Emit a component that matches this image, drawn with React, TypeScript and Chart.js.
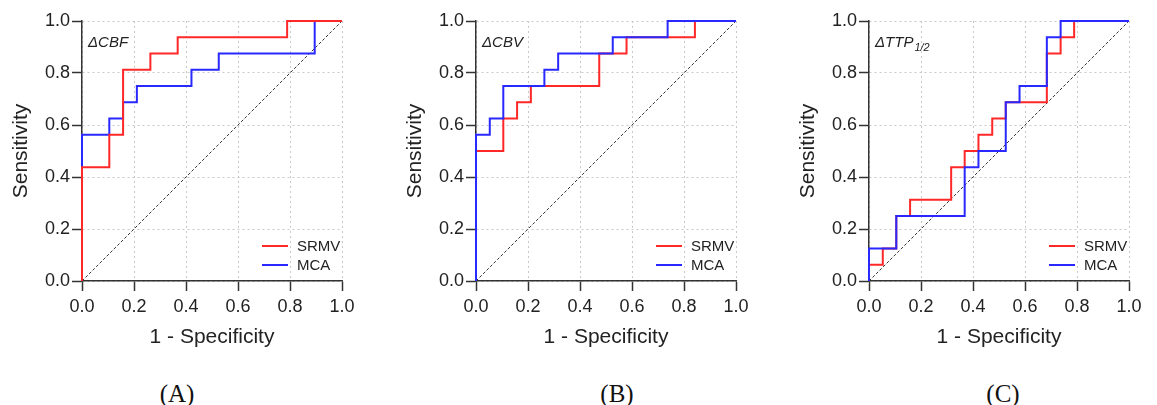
import React, { useEffect, useRef } from 'react';
import { Chart, registerables } from 'chart.js';

Chart.register(...registerables);

// ---------- data (ROC points: 1 - specificity, sensitivity) ----------
const SERIES_NAMES = ['SRMV', 'MCA'];
const PANEL_LETTERS = ['(A)', '(B)', '(C)'];
const PANEL_TAGS = ['ΔCBF', 'ΔCBV', 'ΔTTP'];
const PANEL_SUBS = ['', '', '1/2'];
const AXIS_X_TITLE = '1 - Specificity';
const AXIS_Y_TITLE = 'Sensitivity';
const DIAG_X = [0, 1];
const DIAG_Y = [0, 1];

const A_SRMV_FPR = [0, 0, 0.105, 0.158, 0.263, 0.368, 0.789, 1.0];
const A_SRMV_TPR = [0, 0.4375, 0.5625, 0.8125, 0.875, 0.9375, 1.0, 1.0];
const A_MCA_FPR = [0, 0, 0.105, 0.158, 0.211, 0.421, 0.526, 0.895, 1.0];
const A_MCA_TPR = [0, 0.5625, 0.625, 0.6875, 0.75, 0.8125, 0.875, 1.0, 1.0];

const B_SRMV_FPR = [0, 0, 0.105, 0.158, 0.211, 0.474, 0.579, 0.842, 1.0];
const B_SRMV_TPR = [0, 0.5, 0.625, 0.6875, 0.75, 0.875, 0.9375, 1.0, 1.0];
const B_MCA_FPR = [0, 0, 0.053, 0.105, 0.263, 0.316, 0.526, 0.737, 1.0];
const B_MCA_TPR = [0, 0.5625, 0.625, 0.75, 0.8125, 0.875, 0.9375, 1.0, 1.0];

const C_SRMV_FPR = [0, 0, 0.053, 0.105, 0.158, 0.316, 0.368, 0.421, 0.474, 0.526, 0.684, 0.737, 0.789, 1.0];
const C_SRMV_TPR = [0, 0.0625, 0.125, 0.25, 0.3125, 0.4375, 0.5, 0.5625, 0.625, 0.6875, 0.875, 0.9375, 1.0, 1.0];
const C_MCA_FPR = [0, 0, 0.105, 0.368, 0.421, 0.526, 0.579, 0.684, 0.737, 1.0];
const C_MCA_TPR = [0, 0.125, 0.25, 0.4375, 0.5, 0.6875, 0.75, 0.9375, 1.0, 1.0];

// ---------- styling ----------
const SANS = "'Liberation Sans', Arial, Helvetica, sans-serif";
const SERIF = "'Liberation Serif', 'Times New Roman', serif";
const RED = 'rgb(255, 40, 40)';
const BLUE = 'rgb(40, 40, 255)';
const TEXT = '#222';
const CANVAS_H = 360;
const AREA_TOP = 21;
const AREA_BOTTOM = 281;
const AXIS_W = 82;
const AREA_W = 260;

const insidePlugin = {
  id: 'inside',
  afterDatasetsDraw(chart: any, _args: any, opts: any) {
    const { ctx, chartArea } = chart;
    ctx.save();
    ctx.fillStyle = TEXT;
    ctx.textBaseline = 'middle';
    ctx.textAlign = 'left';
    ctx.font = `italic 15px ${SANS}`;
    const tx = chartArea.left + 6;
    const ty = chartArea.top + 22;
    ctx.fillText(opts.tag, tx, ty);
    if (opts.sub) {
      const w = ctx.measureText(opts.tag).width;
      ctx.font = `italic 11px ${SANS}`;
      ctx.fillText(opts.sub, tx + w + 1, ty + 5);
    }
    const rows = chart.data.datasets.filter((d: any) => SERIES_NAMES.includes(d.label));
    rows.sort((a: any, b: any) => SERIES_NAMES.indexOf(a.label) - SERIES_NAMES.indexOf(b.label));
    ctx.font = `15px ${SANS}`;
    rows.forEach((d: any, i: number) => {
      const y = chartArea.bottom - 35 + i * 19;
      ctx.strokeStyle = d.borderColor;
      ctx.lineWidth = 2;
      ctx.beginPath();
      ctx.moveTo(chartArea.right - 80, y);
      ctx.lineTo(chartArea.right - 54, y);
      ctx.stroke();
      ctx.fillStyle = TEXT;
      ctx.fillText(d.label, chartArea.right - 45, y + 1);
    });
    ctx.restore();
  },
};

function makeSeries(label: string, xs: number[], ys: number[], color: string, order: number) {
  return {
    label,
    data: xs.map((x, i) => ({ x, y: ys[i] })),
    borderColor: color,
    backgroundColor: color,
    borderWidth: 2,
    pointRadius: 0,
    stepped: 'before' as const,
    fill: false,
    clip: false as any,
    order,
  };
}

function axis(title: string, isX: boolean, canvasW: number) {
  return {
    type: 'linear' as const,
    min: 0,
    max: 1,
    afterFit: (s: any) => {
      if (isX) s.height = CANVAS_H - AREA_BOTTOM;
      else s.width = AXIS_W;
    },
    ticks: {
      stepSize: 0.2,
      font: { family: SANS, size: 18 },
      color: TEXT,
      padding: isX ? 5 : 2,
      maxRotation: 0,
      autoSkip: false,
      callback: (v: any) => Number(v).toFixed(1),
    },
    grid: {
      color: '#c8c8c8',
      lineWidth: 1,
      tickLength: 10,
      tickColor: '#333',
      tickWidth: 1.5,
    },
    border: { color: '#333', width: 1.5, dash: [2, 3] },
    title: {
      display: true,
      text: title,
      font: { family: SANS, size: 21 },
      color: TEXT,
      padding: isX ? { top: 0, bottom: 10 } : { top: 9, bottom: 0 },
    },
  };
}

type PanelProps = {
  left: number;
  width: number;
  tag: string;
  sub: string;
  srmv: [number[], number[]];
  mca: [number[], number[]];
  blueOnTop: boolean;
};

function Panel({ left, width, tag, sub, srmv, mca, blueOnTop }: PanelProps) {
  const ref = useRef<HTMLCanvasElement | null>(null);
  useEffect(() => {
    if (!ref.current) return;
    const chart = new Chart(ref.current, {
      type: 'line',
      data: {
        datasets: [
          makeSeries(SERIES_NAMES[0], srmv[0], srmv[1], RED, blueOnTop ? 1 : 0),
          makeSeries(SERIES_NAMES[1], mca[0], mca[1], BLUE, blueOnTop ? 0 : 1),
          {
            label: 'reference',
            data: DIAG_X.map((x, i) => ({ x, y: DIAG_Y[i] })),
            borderColor: '#333',
            borderWidth: 1,
            borderDash: [3, 2],
            pointRadius: 0,
            fill: false,
            order: 5,
          } as any,
        ],
      },
      options: {
        animation: false,
        responsive: false,
        maintainAspectRatio: false,
        layout: { padding: { top: AREA_TOP, left: 0, right: width - AXIS_W - AREA_W, bottom: 0 } },
        plugins: {
          legend: { display: false },
          tooltip: { enabled: false },
          inside: { tag, sub },
        } as any,
        scales: {
          x: axis(AXIS_X_TITLE, true, width) as any,
          y: axis(AXIS_Y_TITLE, false, width) as any,
        },
      },
      plugins: [insidePlugin as any],
    });
    return () => chart.destroy();
  }, []);
  return (
    <canvas
      ref={ref}
      width={width}
      height={CANVAS_H}
      style={{ position: 'absolute', left, top: 0, width, height: CANVAS_H }}
    />
  );
}

const PANELS = [
  { left: 0, width: 380, srmv: [A_SRMV_FPR, A_SRMV_TPR], mca: [A_MCA_FPR, A_MCA_TPR], blueOnTop: false, letterX: 177 },
  { left: 394, width: 380, srmv: [B_SRMV_FPR, B_SRMV_TPR], mca: [B_MCA_FPR, B_MCA_TPR], blueOnTop: true, letterX: 617 },
  { left: 787, width: 370, srmv: [C_SRMV_FPR, C_SRMV_TPR], mca: [C_MCA_FPR, C_MCA_TPR], blueOnTop: true, letterX: 1003 },
];

export default function App() {
  return (
    <div style={{ position: 'absolute', left: 0, top: 0, width: 1157, height: 405, overflow: 'hidden', background: '#fff' }}>
      {PANELS.map((p, i) => (
        <Panel
          key={i}
          left={p.left}
          width={p.width}
          tag={PANEL_TAGS[i]}
          sub={PANEL_SUBS[i]}
          srmv={p.srmv as [number[], number[]]}
          mca={p.mca as [number[], number[]]}
          blueOnTop={p.blueOnTop}
        />
      ))}
      {PANELS.map((p, i) => (
        <div
          key={'l' + i}
          style={{
            position: 'absolute',
            left: p.letterX,
            top: 393,
            transform: 'translate(-50%, -50%)',
            fontFamily: SERIF,
            fontSize: 25,
            lineHeight: 1,
            color: '#111',
            whiteSpace: 'nowrap',
          }}
        >
          {PANEL_LETTERS[i]}
        </div>
      ))}
    </div>
  );
}
